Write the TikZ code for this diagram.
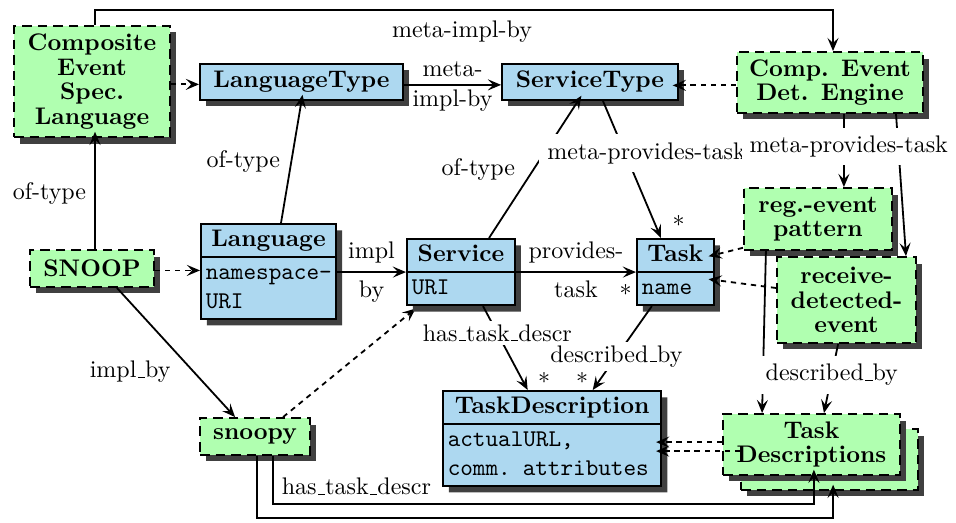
\documentclass[tikz,border=0pt]{standalone}
\usetikzlibrary{shapes.multipart, shadows, arrows.meta}
\pgfdeclarelayer{background}
\pgfsetlayers{background,main}

\definecolor{boxgreen}{RGB}{176,255,176}
\definecolor{boxblue}{RGB}{173,216,240}
\definecolor{shadowgray}{RGB}{64,64,64}

% short baseline underscore
\newcommand{\ulbar}{\leavevmode\kern.06em\vbox{\hrule width.3em}}
% centred title line of a class box
\newcommand{\classtitle}[1]{\hbox to \hsize{\hfil\bfseries #1\strut\hfil}}

\tikzset{
  shadowed/.style={drop shadow={shadow xshift=2.5pt, shadow yshift=-2.7pt, fill=shadowgray, opacity=1}},
  greenbox/.style={draw, line width=0.8pt, dash pattern=on 4pt off 2.5pt, fill=boxgreen, shadowed,
    align=center, inner sep=2pt, font={\fontsize{10pt}{10.2pt}\selectfont\bfseries}},
  bluebox/.style={draw, line width=0.8pt, fill=boxblue, shadowed, font=\bfseries,
    inner sep=2pt, minimum height=15pt},
  umlclass/.style={rectangle split, rectangle split parts=2, draw, line width=0.8pt, fill=boxblue,
    shadowed, inner xsep=2pt, inner ysep=0.5pt, align=left, anchor=north west},
  conn/.style={line width=0.75pt},
  arr/.style={conn, -{Stealth[length=5.5pt, width=4.6pt, inset=2.2pt]}},
  dasharr/.style={arr, dash pattern=on 2.2pt off 2pt},
  lbl/.style={inner sep=3.33pt},
  cutlbl/.style={lbl, fill=white},
  tightcut/.style={cutlbl, inner ysep=1.5pt},
  mult/.style={inner sep=1.5pt},
  toshadow/.style={shorten >=-2.6pt},
}

\begin{document}
\begin{tikzpicture}[x=0.4167pt, y=-0.4167pt]
\useasboundingbox (0,0) rectangle (956,523);

% ---- nodes ----
\node[greenbox, minimum width=65pt, minimum height=46.3pt] (cesl) at (92,81.5) {Composite\\Event\\Spec.\\Language};
\node[bluebox, minimum width=84.6pt] (ltype) at (301.5,82) {LanguageType};
\node[bluebox, minimum width=73.3pt] (stype) at (590,82) {ServiceType};
\node[greenbox, minimum width=77.5pt, minimum height=25.4pt] (cede) at (830,82.5) {Comp. Event\\Det. Engine};
\node[greenbox, minimum width=51.7pt, minimum height=15.4pt] (snoop) at (92,268.5) {SNOOP};

\node[umlclass, text width=52.3pt] (lang) at (200,223)
  {\classtitle{Language}\nodepart{second}\ttfamily\strut namespace-\\URI\strut};
\node[umlclass, text width=41pt] (service) at (406,238)
  {\classtitle{Service}\nodepart{second}\ttfamily URI\strut};
\node[umlclass, text width=28pt] (task) at (636,238)
  {\classtitle{Task}\nodepart{second}\ttfamily name\strut};

\node[greenbox, minimum width=61.7pt, minimum height=25.8pt] (reg) at (818,219) {reg.-event\\pattern};
\node[greenbox, minimum width=57.9pt, minimum height=35.8pt] (receive) at (846.5,300) {receive-\\detected-\\event};

\node[umlclass, text width=87pt] (taskdesc) at (442,390)
  {\classtitle{TaskDescription}\nodepart{second}\ttfamily\strut actualURL,\\comm. attributes\strut};

\node[greenbox, minimum width=45.8pt, minimum height=15.4pt] (snoopy) at (255,436.5) {snoopy};
\node[greenbox, minimum width=73.75pt, minimum height=25.4pt] (tdback) at (829.5,459.5) {};
\node[greenbox, minimum width=73.75pt, minimum height=25.4pt] (tdfront) at (811.5,444.5) {Task\\Descriptions};

% ---- connectors ----
\coordinate (topbend) at (462,10);
\draw[arr] ([xshift=1.25pt]cesl.north) |- (topbend) node[lbl, below=1pt] {meta-impl-by} -| ([xshift=1.25pt]cede.north);

\draw[dasharr] ([yshift=-1.2pt]cesl.east) -- ([yshift=-1.2pt]cesl.east -| ltype.west);
\draw[arr] ([yshift=-1.2pt]ltype.east) -- ([yshift=-1.2pt]stype.west)
  node[lbl, midway, yshift=-0.6pt, align=center, font={\fontsize{10pt}{12.4pt}\selectfont}] {meta-\\impl-by};
\draw[dasharr, toshadow] ([yshift=-1.2pt]cede.west) -- ([yshift=-1.2pt]cede.west -| stype.east);

\draw[arr, toshadow] ([xshift=1.25pt]snoop.north) -- ([xshift=1.25pt]snoop.north |- cesl.south)
  node[lbl, midway, left] {of-type};
\draw[arr, toshadow] ([xshift=5.2pt]lang.north) -- (ltype.south) node[lbl, midway, left=1pt] {of-type};
\draw[dasharr] ([yshift=-0.8pt]snoop.east) -- ([yshift=-0.8pt]snoop.east -| lang.west);

\draw[arr] ([yshift=-14.2pt]service.north west -| lang.east) -- ([yshift=-14.2pt]service.north west)
  node[lbl, midway, above] {impl} node[lbl, midway, below] {by};

\draw[arr, toshadow] ([xshift=11.7pt]service.north) -- ([xshift=-5pt]stype.south)
  node[lbl, midway, left=4pt] {of-type};

\draw[arr] ([xshift=5.4pt]stype.south) -- ([xshift=-6pt]task.north)
  node[cutlbl, pos=0.38, xshift=9pt] {meta-provides-task}
  node[mult, pos=1, above right, xshift=3pt] {*};

\draw[arr] ([yshift=-14.2pt]service.north east) -- ([yshift=-14.2pt]task.north west)
  node[lbl, midway, above] {provides-} node[lbl, midway, below] {task}
  node[mult, pos=1, below left, yshift=-3.5pt] {*};

\draw[arr] ([xshift=27.5pt]cede.south) -- ([xshift=24.8pt]receive.north);
\coordinate (regin) at ([xshift=10.8pt]reg.north);
\draw[arr] (cede.south -| regin) -- (regin) node[cutlbl, pos=0.45, xshift=2pt] {meta-provides-task};

\draw[dasharr, toshadow] ([yshift=-12pt]reg.west) -- ([yshift=-7pt]task.north east);
\draw[dasharr, toshadow] ([yshift=5pt]receive.west) -- ([yshift=-17.5pt]task.north east);

\draw[arr] ([xshift=-21.7pt]reg.south) -- ([xshift=-20.6pt]tdfront.north);
\draw[arr] ([xshift=-3.5pt]receive.south) -- ([xshift=5.2pt]tdfront.north)
  node[cutlbl, pos=0.45] {described\ulbar by};

\draw[arr] ([xshift=9.2pt]service.south) -- ([xshift=-10.2pt]taskdesc.north)
  node[tightcut, pos=0.32] {has\ulbar task\ulbar descr}
  node[mult, pos=1, above right, xshift=2.5pt, yshift=-2pt] {*};
\draw[arr] ([xshift=-9.8pt]task.south) -- ([xshift=16.9pt]taskdesc.north)
  node[tightcut, pos=0.6] {described\ulbar by}
  node[mult, pos=1, above left, yshift=-2pt] {*};

\begin{pgfonlayer}{background}
\draw[dasharr] ([xshift=11.7pt]snoopy.north) -- ([xshift=4pt,yshift=-1pt]service.south west);
\end{pgfonlayer}

\draw[arr] ([xshift=10.4pt]snoop.south) -- ([xshift=-8.3pt]snoopy.north)
  node[lbl, pos=0.65, left=6pt] {impl\ulbar by};

\coordinate (botA) at (540,504);
\coordinate (botB) at (540,518);
\draw[arr, toshadow] ([xshift=7.5pt]snoopy.south) |- node[lbl, pos=0.5, above right] {has\ulbar task\ulbar descr} (botA)
  -| ([xshift=1pt]tdfront.south);
\draw[arr, toshadow] ([xshift=0.8pt]snoopy.south) |- (botB) -| ([xshift=1.5pt]tdback.south);

\draw[dasharr, toshadow] ([yshift=1pt]tdfront.west) -- ([yshift=1pt]tdfront.west -| taskdesc.east);
\draw[dasharr, toshadow] ([yshift=3.5pt]tdback.west) -- ([yshift=3.5pt]tdback.west -| taskdesc.east);
\end{tikzpicture}
\end{document}
